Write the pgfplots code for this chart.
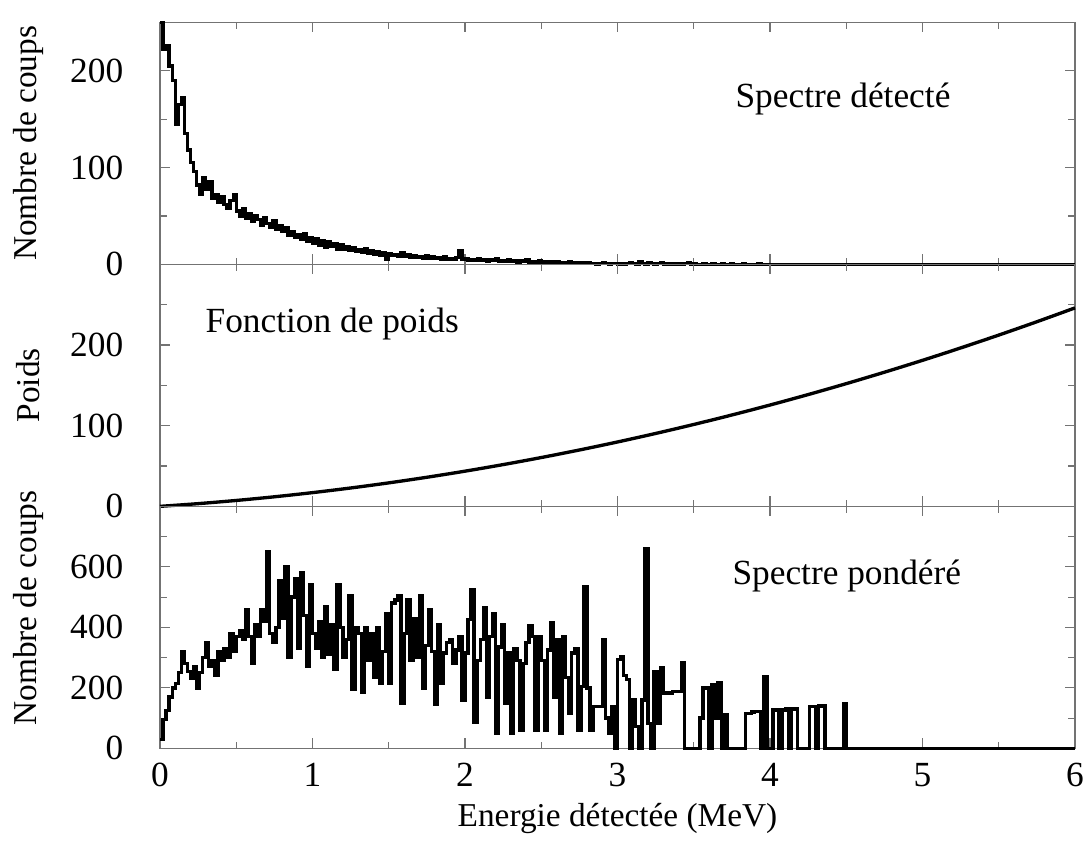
\documentclass[border=0pt]{standalone}
\usepackage{pgfplots}
\pgfplotsset{compat=1.18}
\usepackage{fontspec}
\setmainfont{Liberation Serif}
\tikzset{lab/.style={anchor=base west, inner sep=0pt, font=\fontsize{10.6}{12}\selectfont}}
\pgfplotsset{
  panel/.style={
    scale only axis, width=274.5pt, height=72.6pt,
    anchor=south west,
    xmin=0, xmax=6, ymin=0,
    xtick={0,1,2,3,4,5,6}, minor xtick={0.5,1.5,2.5,3.5,4.5,5.5},
    tick align=inside, major tick length=3pt, minor tick length=2pt,
    axis line style={black!55, line width=0.35pt},
    every tick/.style={black!55, line width=0.35pt},
    tick label style={font=\fontsize{10.6}{12}\selectfont},
    label style={font=\fontsize{10.6}{12}\selectfont},
    /pgf/number format/assume math mode=true,
    yticklabel style={xshift=-7.5pt},
    every axis y label/.style={at={(axis description cs:-0.144,0.5)},rotate=90,anchor=center},
    clip=false,
  },
  hist/.style={const plot, black, line width=1.0pt, line join=miter},
}
\begin{document}
\begin{tikzpicture}
\useasboundingbox (0,0) rectangle (326.7pt,-255pt);
% top panel
\begin{axis}[panel, at={(48pt,-79.3pt)}, ymax=250,
  ytick={0,100,200}, minor ytick={50,150}, xticklabels={},
  ylabel={Nombre de coups}]
\addplot[hist] coordinates {(0,250)(0.02,222)(0.04,226)(0.06,205)(0.08,190)(0.10,145)(0.12,165)(0.14,172)(0.16,135)(0.18,118)(0.20,105)(0.22,96)(0.24,82)(0.26,72)(0.28,90)(0.30,78)(0.32,85)(0.34,68)(0.36,72)(0.38,64)(0.40,70)(0.42,62)(0.44,58)(0.46,66)(0.48,72)(0.50,55)(0.52,50)(0.54,58)(0.56,48)(0.58,52)(0.60,44)(0.62,50)(0.64,46)(0.66,40)(0.68,48)(0.70,42)(0.72,38)(0.74,45)(0.76,36)(0.78,40)(0.80,34)(0.82,38)(0.84,30)(0.86,34)(0.88,28)(0.90,31)(0.92,26)(0.94,32)(0.96,24)(0.98,28)(1.00,22)(1.02,27)(1.04,20)(1.06,24)(1.08,18)(1.10,23)(1.12,19)(1.14,21)(1.16,16)(1.18,20)(1.20,15)(1.22,18)(1.24,14)(1.26,17)(1.28,13)(1.30,15)(1.32,12)(1.34,16)(1.36,11)(1.38,14)(1.40,10)(1.42,13)(1.44,9)(1.46,12)(1.48,5)(1.50,11)(1.52,9)(1.54,10)(1.56,8)(1.58,12)(1.60,8)(1.62,10)(1.64,7)(1.66,9)(1.68,7)(1.70,8)(1.72,6)(1.74,9)(1.76,6)(1.78,8)(1.80,6)(1.82,7)(1.84,5)(1.86,8)(1.88,5)(1.90,6)(1.92,5)(1.94,7)(1.96,14)(1.98,5)(2.00,6)(2.02,4)(2.04,5)(2.06,4)(2.08,6)(2.10,4)(2.12,5)(2.14,3)(2.16,5)(2.18,4)(2.20,6)(2.22,3)(2.24,4)(2.26,3)(2.28,5)(2.30,3)(2.32,4)(2.34,2)(2.36,4)(2.38,3)(2.40,5)(2.42,2)(2.44,3)(2.46,2)(2.48,4)(2.50,2)(2.52,3)(2.54,2)(2.56,3)(2.58,1)(2.60,3)(2.62,2)(2.64,2)(2.66,1)(2.68,3)(2.70,1)(2.72,2)(2.74,1)(2.76,2)(2.78,1)(2.80,2)(2.82,1)(2.84,1)(2.86,0)(2.88,1)(2.90,2)(2.92,1)(2.94,0)(2.96,1)(2.98,1)(3.00,0)(3.02,1)(3.04,0)(3.06,1)(3.08,2)(3.10,1)(3.12,0)(3.14,3)(3.16,1)(3.18,0)(3.20,2)(3.22,1)(3.24,0)(3.26,1)(3.28,2)(3.30,0)(3.32,1)(3.34,0)(3.36,1)(3.38,0)(3.40,1)(3.42,0)(3.44,1)(3.46,2)(3.48,0)(3.50,1)(3.52,0)(3.56,1)(3.58,0)(3.62,1)(3.64,0)(3.68,1)(3.70,0)(3.74,1)(3.76,0)(3.82,1)(3.84,0)(3.92,1)(3.94,0)(6,0)};
\node[lab] at (axis cs:3.77,162) {Spectre détecté};
\end{axis}
% middle panel
\begin{axis}[panel, at={(48pt,-151.9pt)}, ymax=300,
  ytick={0,100,200}, minor ytick={50,150,250}, xticklabels={},
  ylabel={Poids}]
\addplot[black, line width=1.0pt, smooth] coordinates {(0,0)(0.25,3.35)(0.5,7.3)(0.75,11.85)(1,17)(1.25,22.75)(1.5,29.1)(1.75,36.05)(2,43.6)(2.25,51.75)(2.5,60.5)(2.75,69.85)(3,79.8)(3.25,90.35)(3.5,101.5)(3.75,113.25)(4,125.6)(4.25,138.55)(4.5,152.1)(4.75,166.25)(5,181)(5.25,196.35)(5.5,212.3)(5.75,228.85)(6,246)};
\node[lab] at (axis cs:0.295,216) {Fonction de poids};
\end{axis}
% bottom panel
\begin{axis}[panel, at={(48pt,-224.5pt)}, ymax=800,
  ytick={0,200,400,600}, minor ytick={100,300,500,700},
  ylabel={Nombre de coups},
  every axis y label/.style={at={(axis description cs:-0.144,0.58)},rotate=90,anchor=center},
  xlabel={Energie détectée (MeV)},
  every axis x label/.style={at={(axis description cs:0.5,-0.324)},anchor=base},
  xticklabel style={yshift=-1pt}]
\addplot[hist] coordinates {(0,30)(0.02,95)(0.04,125)(0.06,170)(0.08,200)(0.10,215)(0.12,250)(0.14,320)(0.16,280)(0.18,255)(0.20,230)(0.22,270)(0.24,200)(0.26,250)(0.28,300)(0.30,350)(0.32,270)(0.34,290)(0.36,240)(0.38,320)(0.40,290)(0.42,330)(0.44,300)(0.46,380)(0.48,320)(0.50,370)(0.52,390)(0.54,360)(0.56,460)(0.58,370)(0.60,280)(0.62,410)(0.64,370)(0.66,460)(0.68,420)(0.70,650)(0.72,380)(0.74,350)(0.76,400)(0.78,555)(0.80,430)(0.82,600)(0.84,300)(0.86,500)(0.88,560)(0.90,330)(0.92,580)(0.94,440)(0.96,270)(0.98,540)(1.00,380)(1.02,330)(1.04,420)(1.06,300)(1.08,470)(1.10,310)(1.12,410)(1.14,260)(1.16,540)(1.18,400)(1.20,300)(1.22,360)(1.24,505)(1.26,195)(1.28,400)(1.30,380)(1.32,185)(1.34,400)(1.36,290)(1.38,380)(1.40,235)(1.42,400)(1.44,215)(1.46,320)(1.48,445)(1.50,215)(1.52,480)(1.54,490)(1.56,505)(1.58,150)(1.60,380)(1.62,490)(1.64,290)(1.66,430)(1.68,300)(1.70,505)(1.72,200)(1.74,340)(1.76,460)(1.78,320)(1.80,145)(1.82,410)(1.84,215)(1.86,315)(1.88,350)(1.90,360)(1.92,280)(1.94,325)(1.96,370)(1.98,160)(2.00,315)(2.02,425)(2.04,525)(2.06,85)(2.08,290)(2.10,360)(2.12,465)(2.14,170)(2.16,370)(2.18,445)(2.20,50)(2.22,335)(2.24,410)(2.26,150)(2.28,315)(2.30,50)(2.32,330)(2.34,290)(2.36,60)(2.38,280)(2.40,350)(2.42,405)(2.44,370)(2.46,60)(2.48,370)(2.50,290)(2.52,60)(2.54,325)(2.56,415)(2.58,170)(2.60,360)(2.62,50)(2.64,370)(2.66,235)(2.68,115)(2.70,315)(2.72,330)(2.74,60)(2.76,205)(2.78,535)(2.80,200)(2.82,60)(2.84,138)(2.86,138)(2.88,138)(2.90,360)(2.92,100)(2.94,50)(2.96,138)(2.98,0)(3.00,293)(3.02,304)(3.04,240)(3.06,227)(3.08,0)(3.10,160)(3.12,72)(3.14,0)(3.16,160)(3.18,659)(3.20,83)(3.22,0)(3.24,255)(3.26,83)(3.28,266)(3.30,183)(3.32,183)(3.34,183)(3.36,188)(3.38,188)(3.40,188)(3.42,282)(3.44,0)(3.54,100)(3.56,200)(3.58,200)(3.60,0)(3.62,210)(3.64,100)(3.66,216)(3.68,0)(3.70,110)(3.72,0)(3.84,116)(3.86,116)(3.88,120)(3.90,122)(3.92,122)(3.94,0)(3.96,238)(3.98,0)(4.02,127)(4.04,127)(4.06,0)(4.08,127)(4.10,130)(4.12,0)(4.14,130)(4.16,130)(4.18,0)(4.26,138)(4.28,138)(4.30,0)(4.32,140)(4.34,140)(4.36,0)(4.48,148)(4.50,0)(6,0)};
\node[lab] at (axis cs:3.75,542) {Spectre pondéré};
\end{axis}
\end{tikzpicture}
\end{document}
